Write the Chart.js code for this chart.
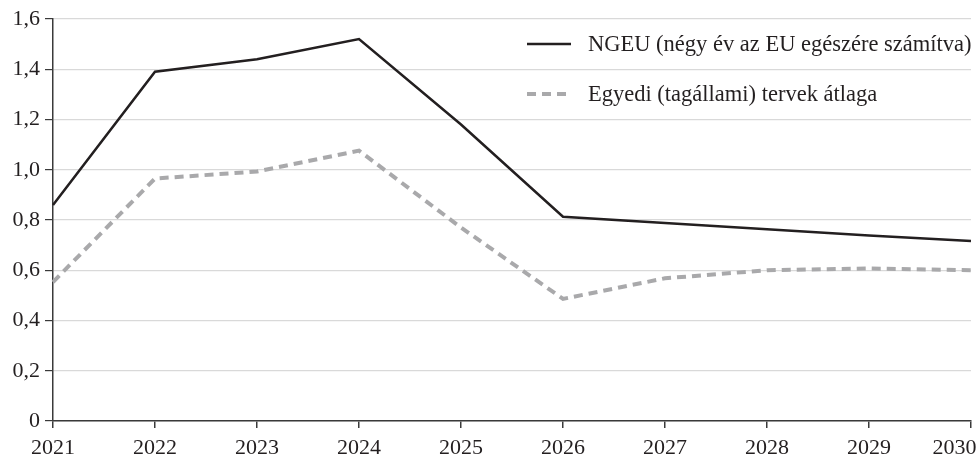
<!DOCTYPE html>
<html>
<head>
<meta charset="utf-8">
<script src="https://cdn.jsdelivr.net/npm/chart.js@4"></script>
<style>
  html, body { margin: 0; padding: 0; background: #ffffff; }
  #wrap { width: 980px; height: 455px; }
</style>
</head>
<body>
<div id="wrap"><canvas id="c" width="980" height="455"></canvas></div>
<script>
const years = ['2021','2022','2023','2024','2025','2026','2027','2028','2029','2030'];
const ngeu = [0.86, 1.39, 1.44, 1.52, 1.18, 0.813, 0.788, 0.763, 0.738, 0.716];
const egyedi = [0.553, 0.965, 0.993, 1.076, 0.77, 0.486, 0.568, 0.600, 0.607, 0.600];
const seriesLabels = ['NGEU (négy év az EU egészére számítva)', 'Egyedi (tagállami) tervek átlaga'];
const yMin = 0, yMax = 1.6, yStep = 0.2;

const FONT = 'Liberation Serif';
const INK = '#231f20';

const legendPlugin = {
  id: 'insideLegend',
  afterDatasetsDraw(chart) {
    const { ctx, chartArea } = chart;
    ctx.save();
    chart.data.datasets.forEach((ds, i) => {
      const y = chartArea.top + 25 + i * 50;
      const x0 = chartArea.right - 444, x1 = chartArea.right - 400;
      ctx.beginPath();
      ctx.setLineDash(ds.borderDash || []);
      ctx.strokeStyle = ds.borderColor;
      ctx.lineWidth = ds.borderWidth;
      ctx.moveTo(x0, y);
      ctx.lineTo(x1, y);
      ctx.stroke();
      ctx.setLineDash([]);
      ctx.fillStyle = INK;
      ctx.font = '22.5px "' + FONT + '"';
      ctx.textBaseline = 'middle';
      ctx.textAlign = 'left';
      ctx.fillText(ds.label, chartArea.right - 383, y + 1);
    });
    ctx.restore();
  }
};

new Chart(document.getElementById('c'), {
  type: 'line',
  data: {
    labels: years,
    datasets: [
      { label: seriesLabels[0], data: ngeu, borderColor: INK, borderWidth: 2.5,
        pointRadius: 0, tension: 0, fill: false },
      { label: seriesLabels[1], data: egyedi, borderColor: '#a9a9ab', borderWidth: 4,
        borderDash: [9, 6], pointRadius: 0, tension: 0, fill: false }
    ]
  },
  options: {
    responsive: false,
    animation: false,
    devicePixelRatio: 1,
    layout: { padding: { top: 19, right: 0, left: 0, bottom: 0 } },
    plugins: { legend: { display: false }, tooltip: { enabled: false } },
    scales: {
      x: {
        type: 'category',
        offset: false,
        grid: { drawOnChartArea: false, drawTicks: true, tickLength: 7, tickColor: '#3a3a3a', lineWidth: 1.5 },
        border: { display: true, color: '#3a3a3a', width: 1.5 },
        ticks: {
          font: { family: FONT, size: 22 }, color: INK, padding: 7,
          maxRotation: 0, autoSkip: false,
          callback: function(v, i) {
            const l = this.getLabelForValue(v);
            return i === years.length - 1 ? l + '      ' : l;
          }
        },
        afterFit(scale) { scale.height = 34; scale.paddingRight = 9; }
      },
      y: {
        min: yMin, max: yMax,
        grid: { color: '#d9d9d9', lineWidth: 1.2, tickColor: '#3a3a3a', tickLength: 8 },
        border: { display: true, color: '#3a3a3a', width: 1.5 },
        ticks: {
          stepSize: yStep, font: { family: FONT, size: 22 }, color: INK, padding: 5,
          callback: (v) => v === 0 ? '0' : Number(v).toFixed(1).replace('.', ',')
        },
        afterFit(scale) { scale.width = 53; }
      }
    }
  },
  plugins: [legendPlugin]
});
</script>
</body>
</html>
